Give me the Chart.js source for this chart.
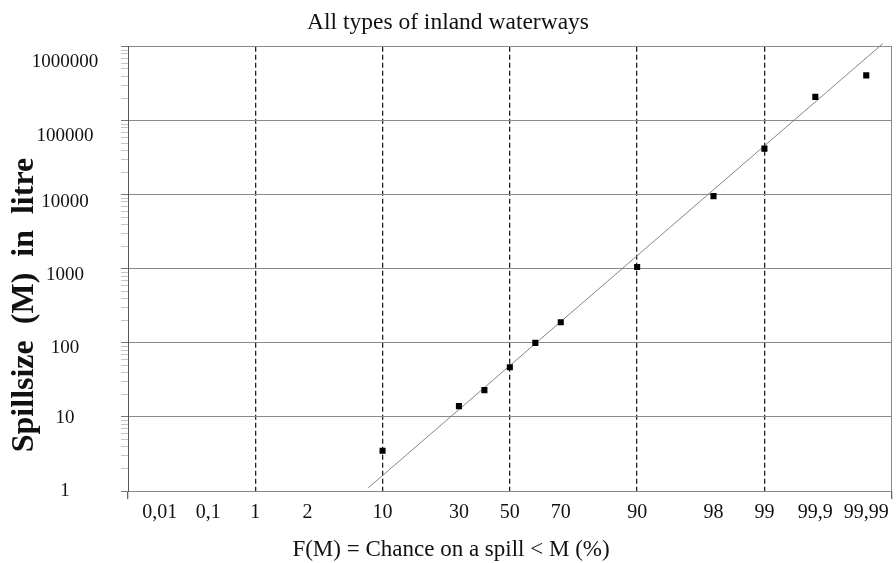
<!DOCTYPE html>
<html>
<head>
<meta charset="utf-8">
<script src="https://cdn.jsdelivr.net/npm/chart.js@4"></script>
<style>
  html, body { margin: 0; padding: 0; background: #fff; }
  #wrap { width: 896px; height: 563px; }
</style>
</head>
<body>
<div id="wrap"><canvas id="chart" width="896" height="563"></canvas></div>
<script>
// probability axis: percent ticks and where they sit on the axis (1 unit = one dashed gap)
var tickPercents = [0.01, 0.1, 1, 2, 10, 30, 50, 70, 90, 98, 99, 99.9, 99.99]
var tickPositions = [-0.75, -0.37, 0, 0.41, 1, 1.6, 2, 2.4, 3, 3.6, 4, 4.4, 4.8]
var tickLabels = ['0,01', '0,1', '1', '2', '10', '30', '50', '70', '90', '98', '99', '99,9', '99,99']
var dashedPercents = [1, 10, 50, 90, 99]

// spill size axis labels
var decadeValues = [1, 10, 100, 1000, 10000, 100000, 1000000]
var decadeLabels = ['1', '10', '100', '1000', '10000', '100000', '1000000']

// observed spills
var spillPercent = [10, 30, 40, 50, 60, 70, 90, 98, 99, 99.9, 99.99]
var spillLitre = [3.5, 14, 23, 47, 100, 190, 1060, 9600, 42000, 210000, 410000]

// fitted line (axis position, litre)
var fitPosition = [0.887, 4.93]
var fitLitre = [1.1, 1100000]

var serif = '"Liberation Serif", "Times New Roman", serif'
// the printed y labels sag a bit below their grid lines towards the top
var yLabelNudge = [0, 1, 5, 6, 7, 15, 15]

function probPos(p){
    // piecewise linear between the printed ticks
    for(var i=0; i<tickPercents.length-1; i++){
        if(p <= tickPercents[i+1]){
            var t = (p - tickPercents[i]) / (tickPercents[i+1] - tickPercents[i])
            return tickPositions[i] + t * (tickPositions[i+1] - tickPositions[i])
        }
    }
    return tickPositions[tickPositions.length-1]
}

var dashedPositions = dashedPercents.map(probPos)

function isDashed(v){
    return dashedPositions.some(function(d){ return Math.abs(d - v) < 1e-6 })
}
function isDecade(v){
    var l = Math.log10(v)
    return Math.abs(l - Math.round(l)) < 1e-9
}

var points = spillPercent.map(function(p, i){
    return {x: probPos(p), y: spillLitre[i]}
})
var fitLine = fitPosition.map(function(x, i){
    return {x: x, y: fitLitre[i]}
})

// axis titles and y labels, placed like in the printed figure
var printedText = {
    id: 'printedText',
    afterDraw: function(chart){
        var ctx = chart.ctx
        var yScale = chart.scales.y

        ctx.save()
        ctx.fillStyle = '#111'
        ctx.textAlign = 'center'
        ctx.textBaseline = 'middle'
        ctx.font = '19px ' + serif
        decadeValues.forEach(function(v, i){
            ctx.fillText(decadeLabels[i], 65, yScale.getPixelForValue(v) + yLabelNudge[i])
        })
        ctx.restore()

        ctx.save()
        ctx.fillStyle = '#111'
        ctx.textAlign = 'center'
        ctx.textBaseline = 'middle'
        ctx.font = 'bold 32px ' + serif
        ctx.translate(25, 305)
        ctx.rotate(-Math.PI / 2)
        ctx.fillText('Spillsize  (M)  in  litre', 0, 0)
        ctx.restore()

        ctx.save()
        ctx.fillStyle = '#111'
        ctx.textAlign = 'center'
        ctx.textBaseline = 'middle'
        ctx.font = '23px ' + serif
        ctx.fillText('F(M) = Chance on a spill < M (%)', 451, 550)
        ctx.restore()
    }
}

new Chart(document.getElementById('chart'), {
    type: 'scatter',
    data: {
        datasets: [
            {
                label: 'fit',
                type: 'line',
                data: fitLine,
                borderColor: '#777',
                borderWidth: 0.9,
                pointRadius: 0,
                fill: false,
                clip: false,
                order: 2
            },
            {
                label: 'spills',
                data: points,
                pointStyle: 'rect',
                pointRadius: 4.3,
                backgroundColor: '#000',
                borderColor: '#000',
                borderWidth: 0,
                order: 1
            }
        ]
    },
    options: {
        responsive: false,
        animation: false,
        layout: { padding: 0 },
        plugins: {
            legend: { display: false },
            tooltip: { enabled: false },
            title: {
                display: true,
                text: 'All types of inland waterways',
                color: '#111',
                font: { family: serif, size: 23.5, weight: 'normal' },
                padding: { top: 9, bottom: 9.5 }
            }
        },
        scales: {
            x: {
                type: 'linear',
                min: -1,
                max: 5,
                afterBuildTicks: function(scale){
                    scale.ticks = [-1].concat(tickPositions, [5]).map(function(v){ return {value: v} })
                },
                afterFit: function(scale){ scale.height = 72 },
                ticks: {
                    autoSkip: false,
                    maxRotation: 0,
                    color: '#111',
                    padding: 2,
                    font: { family: serif, size: 20 },
                    callback: function(v){
                        var i = tickPositions.indexOf(v)
                        return i < 0 ? '' : tickLabels[i]
                    }
                },
                grid: {
                    lineWidth: 1.3,
                    tickLength: 8,
                    color: function(c){ return c.tick && isDashed(c.tick.value) ? '#222' : 'rgba(0,0,0,0)' },
                    tickColor: function(c){
                        return c.tick && (c.tick.value === -1 || c.tick.value === 5) ? '#666' : 'rgba(0,0,0,0)'
                    }
                },
                border: { display: true, color: '#888', width: 1, dash: [5, 3] }
            },
            y: {
                type: 'logarithmic',
                position: 'left',
                min: 1,
                max: 1000000,
                afterBuildTicks: function(scale){
                    var t = []
                    for(var e=0; e<6; e++){
                        for(var m=1; m<10; m++){
                            t.push({value: m * Math.pow(10, e)})
                        }
                    }
                    t.push({value: 1000000})
                    scale.ticks = t
                },
                afterFit: function(scale){ scale.width = 128 },
                ticks: { display: false, autoSkip: false },
                grid: {
                    tickLength: 7,
                    lineWidth: 1,
                    color: function(c){ return c.tick && isDecade(c.tick.value) ? '#8a8a8a' : 'rgba(0,0,0,0)' },
                    tickColor: function(c){ return c.tick && isDecade(c.tick.value) ? '#777' : '#aaa' },
                    tickWidth: function(c){ return c.tick && isDecade(c.tick.value) ? 1 : 0.7 }
                },
                border: { display: true, color: '#555', width: 1 }
            },
            y2: {
                type: 'linear',
                position: 'right',
                ticks: { display: false },
                grid: { display: false, drawTicks: false },
                border: { display: true, color: '#888', width: 1 },
                afterFit: function(scale){ scale.width = 3 }
            }
        }
    },
    plugins: [printedText]
})
</script>
</body>
</html>
